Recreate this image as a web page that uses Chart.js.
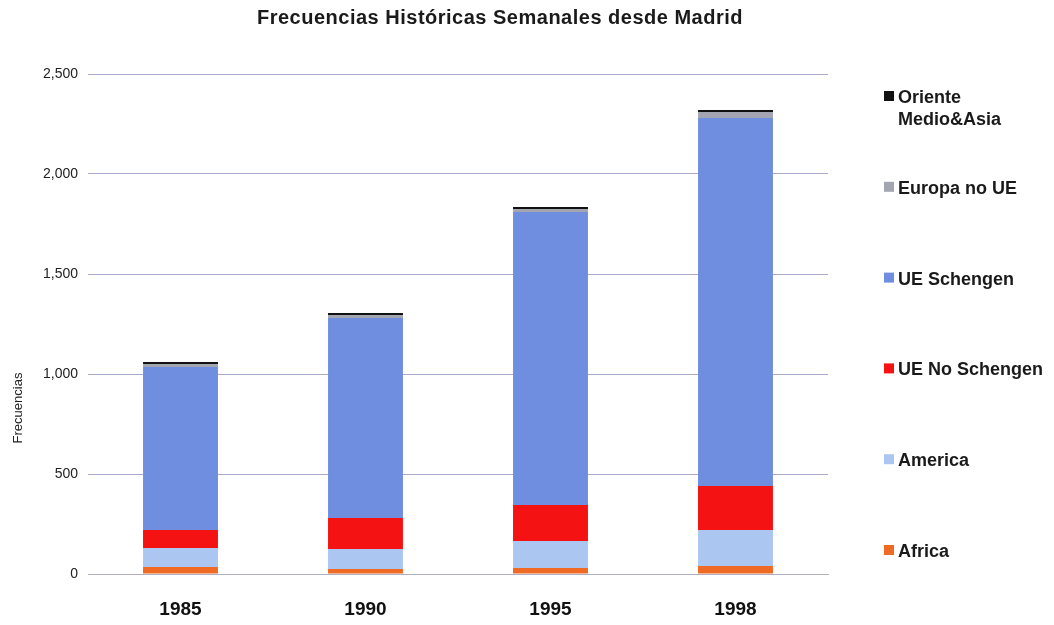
<!DOCTYPE html>
<html>
<head>
<meta charset="utf-8">
<script src="https://cdn.jsdelivr.net/npm/chart.js@4.4.1/dist/chart.umd.min.js"></script>
<style>
  body { margin: 0; background: #fff; }
  #wrap { width: 1054px; height: 625px; position: relative; }
</style>
</head>
<body>
<div id="wrap"><canvas id="myChart" width="1054" height="625"></canvas></div>
<script>
// years on the x axis
var years = ['1985', '1990', '1995', '1998'];

// weekly frequencies per region (stacked, bottom to top)
var africa = [35, 25, 30, 40];
var america = [95, 100, 135, 180];
var ueNoSchengen = [90, 155, 180, 220];
var ueSchengen = [815, 1000, 1465, 1840];
var europaNoUE = [15, 15, 15, 30];
var orienteAsia = [10, 10, 10, 10];

var yTicks = [0, 500, 1000, 1500, 2000, 2500];

var chartTitle = 'Frecuencias Históricas Semanales desde Madrid';
var yTitle = 'Frecuencias';
var FONT = "'Liberation Sans', Arial, sans-serif";

// title, y axis title and the legend spread down the right side
var extrasPlugin = {
    id: 'extras',
    afterDraw: function(chart) {
        var ctx = chart.ctx;
        var area = chart.chartArea;
        ctx.save();
        ctx.fillStyle = '#1a1a1a';
        ctx.font = 'bold 20px ' + FONT;
        ctx.letterSpacing = '0.5px';
        ctx.textAlign = 'center';
        ctx.textBaseline = 'middle';
        ctx.fillText(chartTitle, 500, 18);
        ctx.letterSpacing = '0px';

        // y axis title
        ctx.save();
        ctx.translate(18, 408);
        ctx.rotate(-Math.PI / 2);
        ctx.font = '13px ' + FONT;
        ctx.fillStyle = '#222';
        ctx.fillText(yTitle, 0, 0);
        ctx.restore();

        var ds = chart.data.datasets.slice().reverse();
        var step = (area.bottom - area.top - 46) / (ds.length - 1);
        ctx.textAlign = 'left';
        ctx.font = 'bold 18px ' + FONT;
        for (var i = 0; i < ds.length; i++) {
            var y = area.top + 24 + i * step;
            ctx.fillStyle = ds[i].backgroundColor;
            ctx.fillRect(area.right + 56, y - 7, 10, 10);
            ctx.fillStyle = '#1a1a1a';
            var lines = ds[i].legendLines || [ds[i].label];
            for (var j = 0; j < lines.length; j++) {
                ctx.fillText(lines[j], area.right + 70, y + j * 22);
            }
        }
        ctx.restore();
    }
};

var ctx = document.getElementById('myChart').getContext('2d');
var chart = new Chart(ctx, {
    type: 'bar',
    data: {
        labels: years,
        datasets: [
            { label: 'Africa', data: africa, backgroundColor: '#ef6a24' },
            { label: 'America', data: america, backgroundColor: '#acc6f2' },
            { label: 'UE No Schengen', data: ueNoSchengen, backgroundColor: '#f51212' },
            { label: 'UE Schengen', data: ueSchengen, backgroundColor: '#6f8ee0' },
            { label: 'Europa no UE', data: europaNoUE, backgroundColor: '#a3a6b0' },
            { label: 'Oriente Medio&Asia', legendLines: ['Oriente', 'Medio&Asia'], data: orienteAsia, backgroundColor: '#111111' }
        ]
    },
    options: {
        responsive: false,
        animation: false,
        devicePixelRatio: 1,
        layout: { padding: { top: 74, right: 226, bottom: 0, left: 0 } },
        datasets: {
            bar: { barPercentage: 0.405, categoryPercentage: 1.0, borderWidth: 0 }
        },
        plugins: {
            legend: { display: false },
            tooltip: { enabled: false }
        },
        scales: {
            x: {
                stacked: true,
                grid: { display: false, drawTicks: false },
                border: { display: true, color: '#b0b0c0', width: 1 },
                ticks: {
                    color: '#111',
                    padding: 24,
                    font: { family: FONT, size: 19, weight: 'bold' }
                },
                afterFit: function(s) { s.height = 51; }
            },
            y: {
                stacked: true,
                min: 0,
                max: 2500,
                afterBuildTicks: function(s) {
                    s.ticks = yTicks.map(function(v) { return { value: v }; });
                },
                grid: { color: '#a9aacb', lineWidth: 1, drawTicks: false },
                border: { display: false },
                ticks: {
                    color: '#222',
                    padding: 10,
                    font: { family: FONT, size: 14 },
                    callback: function(v) { return v.toLocaleString('en-US'); }
                },
                afterFit: function(s) { s.width = 88; }
            }
        }
    },
    plugins: [extrasPlugin]
});
</script>
</body>
</html>
